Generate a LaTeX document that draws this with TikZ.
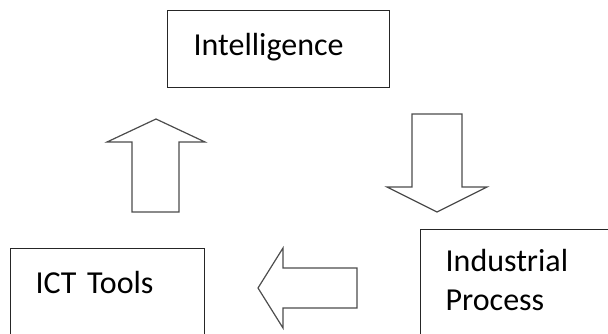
\documentclass[tikz,border=0pt]{standalone}
\usepackage{fontspec}
\setmainfont{Carlito}
\usetikzlibrary{positioning}

\tikzset{
  box/.style={draw=black!85, line width=1.3pt, anchor=north west, align=left,
    inner ysep=0pt, inner xsep=25pt, font=\fontsize{32}{39}\selectfont},
  blockarrow/.style={draw=black!70, line width=1.2pt, line join=miter, fill=white}
}

\begin{document}
\begin{tikzpicture}[x=1pt, y=-1pt]

      % Frame of the picture
	  \clip (0,0) rectangle (608,333);

      % Define nodes
	  \node[box, text width=170pt, text height=45pt, text depth=32pt, inner xsep=26pt] (intel) at (167,10) {Intelligence};
	  \node[box, text width=144pt, text height=45pt, text depth=70pt] (ict) at (10,248) {ICT Tools};
	  \node[box, text width=200pt, text height=42pt, text depth=90pt] (industry) at (420,229) {Industrial\\Process};

	  % Block arrows
	  \coordinate (up-tip)   at (156,119);
	  \coordinate (down-tip) at (437,212);
	  \coordinate (left-tip) at (258,288);

	  \draw[blockarrow] (up-tip) -- ++(49,23) -- ++(-26,0) -- ++(0,70) -- ++(-47,0) -- ++(0,-70) -- ++(-25,0) -- cycle;
	  \draw[blockarrow] (down-tip) -- ++(50,-25) -- ++(-25,0) -- ++(0,-73) -- ++(-50,0) -- ++(0,73) -- ++(-25,0) -- cycle;
	  \draw[blockarrow] (left-tip) -- ++(25,-40) -- ++(0,20) -- ++(74,0) -- ++(0,40) -- ++(-74,0) -- ++(0,20) -- cycle;

	\end{tikzpicture}
\end{document}
